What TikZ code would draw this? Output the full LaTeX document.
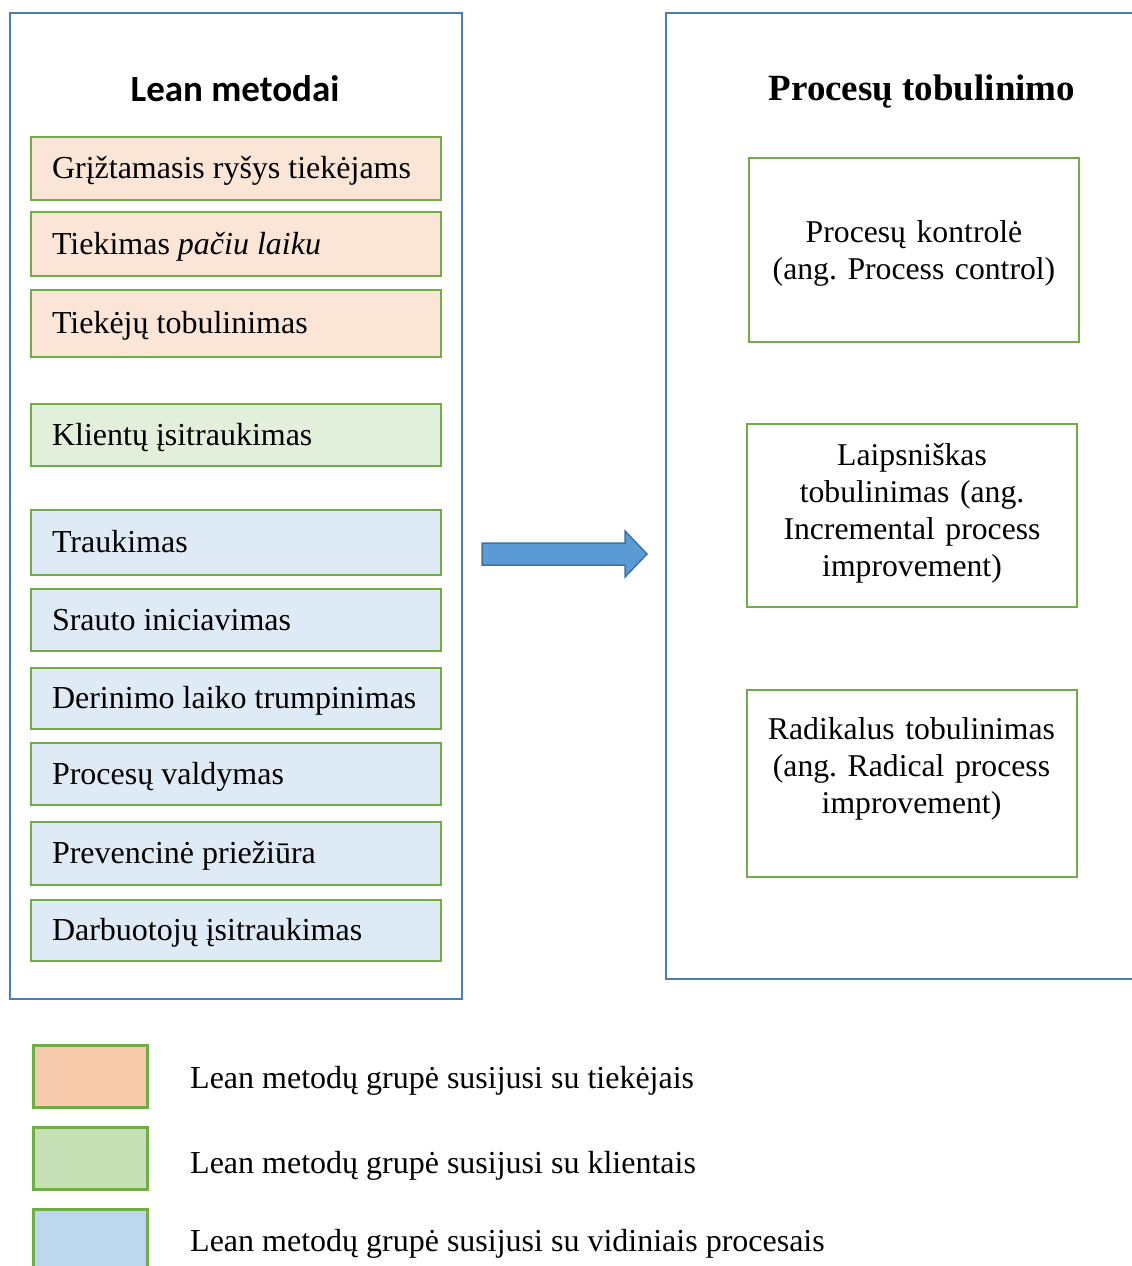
\documentclass[tikz,border=0pt]{standalone}
\usepackage{fontspec}
\setmainfont{Liberation Serif}
\newfontfamily\calibri{Carlito}
\frenchspacing
\definecolor{outerblue}{HTML}{4A7EBB}
\definecolor{lgreen}{HTML}{70AD47}
\definecolor{peachL}{HTML}{FBE5D6}
\definecolor{greenL}{HTML}{E2EFDA}
\definecolor{blueL}{HTML}{DEEBF7}
\definecolor{peachD}{HTML}{F8CBAD}
\definecolor{greenD}{HTML}{C5E0B4}
\definecolor{blueD}{HTML}{BDD7EE}
\definecolor{arrowfill}{HTML}{5B9BD5}
\definecolor{arrowline}{HTML}{41719C}
\begin{document}
\begin{tikzpicture}[x=1pt,y=-1pt,
  outerbox/.style={draw=outerblue, line width=2pt, inner sep=0pt},
  item/.style={draw=lgreen, line width=2.5pt, minimum width=410pt, inner xsep=21pt, inner ysep=0pt,
    text width=368pt, align=flush left, text height=22pt, text depth=2pt,
    font=\fontsize{32}{37}\selectfont},
  rbox/.style={draw=lgreen, line width=2pt, minimum width=330pt, inner sep=0pt},
  rtext/.style={anchor=base, text width=330pt, align=center, inner sep=0pt,
    font=\fontsize{31.7}{37}\selectfont},
  legbox/.style={draw=lgreen, line width=3pt, minimum width=114pt, minimum height=62pt, inner sep=0pt},
  legtext/.style={anchor=base west, inner sep=0pt, font=\fontsize{32}{37}\selectfont}
]
\useasboundingbox (0,0) rectangle (1132,1266);

% left outer box
\node[outerbox, minimum width=452pt, minimum height=986pt] (lean) at (236,506) {};
\node[font=\calibri\bfseries\fontsize{37}{44}\selectfont, inner sep=0pt] (leanT) at (235,89) {Lean metodai};

\node[item, fill=peachL, minimum height=63pt] (g1) at (236,168.5) {Grįžtamasis ryšys tiekėjams};
\node[item, fill=peachL, minimum height=64pt] (g2) at (236,244) {Tiekimas \textit{pačiu laiku}};
\node[item, fill=peachL, minimum height=67pt] (g3) at (236,323.5) {Tiekėjų tobulinimas};
\node[item, fill=greenL, minimum height=62pt] (k1) at (236,435) {Klientų įsitraukimas};
\node[item, fill=blueL, minimum height=65pt] (v1) at (236,542.5) {Traukimas};
\node[item, fill=blueL, minimum height=62pt] (v2) at (236,620) {Srauto iniciavimas};
\node[item, fill=blueL, minimum height=61pt] (v3) at (236,698.5) {Derinimo laiko trumpinimas};
\node[item, fill=blueL, minimum height=62pt] (v4) at (236,774) {Procesų valdymas};
\node[item, fill=blueL, minimum height=63pt] (v5) at (236,853.5) {Prevencinė priežiūra};
\node[item, fill=blueL, minimum height=61pt] (v6) at (236,930.5) {Darbuotojų įsitraukimas};

% block arrow
\draw[fill=arrowfill, draw=arrowline, line width=1.5pt, line join=miter]
  (482,543) -- (625,543) -- (625,531) -- (647,554) -- (625,577) -- (625,565) -- (482,565) -- cycle;

% right outer box (extends past the right edge)
\node[outerbox, minimum width=534pt, minimum height=966pt] (proc) at (933,496) {};
\node[anchor=base, inner sep=0pt, font=\bfseries\fontsize{37}{44}\selectfont] (procT) at (922,100) {Procesų tobulinimo};

\node[rbox, minimum height=184pt] (r1) at (914,250) {};
\node[rtext] (r1t) at (914,242) {Procesų kontrolė\\(ang. Process control)};
\node[rbox, minimum height=183pt] (r2) at (912,515.5) {};
\node[rtext] (r2t) at (912,465) {Laipsniškas\\tobulinimas (ang.\\Incremental process\\improvement)};
\node[rbox, minimum height=187pt] (r3) at (912,783.5) {};
\node[rtext] (r3t) at (911.5,739) {Radikalus tobulinimas\\(ang. Radical process\\improvement)};

% legend
\node[legbox, fill=peachD] (l1) at (90,1076.5) {};
\node[legbox, fill=greenD] (l2) at (90,1158.5) {};
\node[legbox, fill=blueD] (l3) at (90,1240) {};
\node[legtext] (l1t) at (190,1088.5) {Lean metodų grupė susijusi su tiekėjais};
\node[legtext] (l2t) at (190,1173) {Lean metodų grupė susijusi su klientais};
\node[legtext] (l3t) at (190,1251) {Lean metodų grupė susijusi su vidiniais procesais};
\end{tikzpicture}
\end{document}
